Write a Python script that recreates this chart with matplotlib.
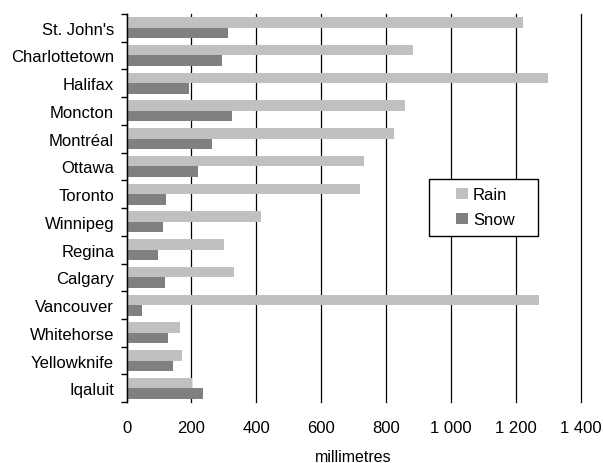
import matplotlib.pyplot as plt
import numpy as np
from matplotlib.patches import Rectangle
from matplotlib.ticker import FixedLocator, FuncFormatter

plt.rcParams['font.family'] = ['Liberation Sans', 'DejaVu Sans']

cities = ["St. John's", 'Charlottetown', 'Halifax', 'Moncton', 'Montréal', 'Ottawa',
          'Toronto', 'Winnipeg', 'Regina', 'Calgary', 'Vancouver', 'Whitehorse',
          'Yellowknife', 'Iqaluit']
rain = [1221, 882, 1298, 857, 823, 731, 721, 413, 299, 330, 1273, 166, 170, 202]
snow = [314, 293, 191, 324, 262, 219, 120, 111, 96, 117, 46, 129, 142, 234]

fig = plt.figure(figsize=(6.03, 4.64), dpi=100)
ax = fig.add_axes([0.210, 0.131, 0.753, 0.837])

y = np.arange(len(cities))
h = 0.38
ax.barh(y - h / 2, rain, height=h, color='#c0c0c0', label='Rain', zorder=3)
ax.barh(y + h / 2, snow, height=h, color='#808080', label='Snow', zorder=3)

ax.set_xlim(0, 1400)
ax.set_ylim(len(cities) - 0.5, -0.5)
ax.set_xticks(range(0, 1401, 200))
ax.xaxis.set_major_formatter(FuncFormatter(lambda v, p: f'{int(v):,}'.replace(',', ' ')))
ax.set_yticks(y)
ax.set_yticklabels(cities)
ax.yaxis.set_minor_locator(FixedLocator(np.arange(-0.5, len(cities), 1)))

ax.grid(axis='x', color='black', linewidth=0.9, zorder=1)
for line in ax.get_xgridlines():
    line.set_clip_on(False)
for s in ['top', 'right', 'bottom']:
    ax.spines[s].set_visible(False)
ax.spines['left'].set_linewidth(1.0)
ax.spines['left'].set_zorder(4)

ax.tick_params(axis='y', which='major', length=0, pad=9, labelsize=12)
ax.tick_params(axis='y', which='minor', length=4, width=1.0)
ax.tick_params(axis='x', length=0, pad=13, labelsize=12)
ax.set_xlabel('millimetres', fontsize=11.5, labelpad=10)

# legend box drawn by hand, wider padding than matplotlib gives
ax.add_patch(Rectangle((0.666, 0.428), 0.240, 0.147, transform=ax.transAxes,
                       facecolor='white', edgecolor='black', linewidth=1.0, zorder=5))
leg = ax.legend(loc='center left', bbox_to_anchor=(0.726, 0.5015), frameon=False,
                fontsize=12, handlelength=0.7, handleheight=0.7, handletextpad=0.3,
                borderpad=0, labelspacing=0.6, borderaxespad=0)
leg.set_zorder(6)

fig.savefig('out.png', dpi=100)
